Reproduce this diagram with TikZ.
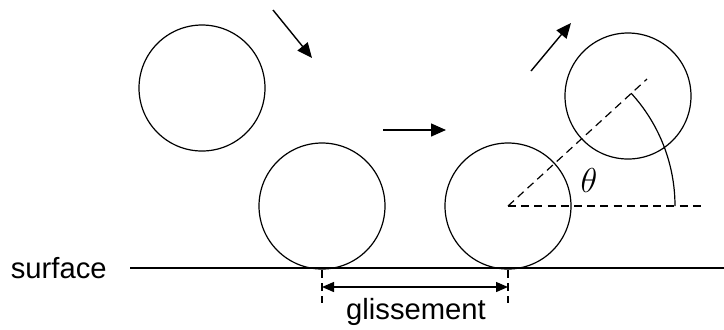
\documentclass[tikz,border=0pt]{standalone}
\usepackage{fontspec}
\setmainfont{Liberation Sans}
\usetikzlibrary{arrows.meta}
\begin{document}
\begin{tikzpicture}[x=0.5pt,y=-0.5pt,
  ball/.style={draw,circle,line width=0.6pt,minimum size=63pt,inner sep=0pt},
  motion/.style={line width=0.7pt,-{Triangle[length=7.5pt,width=6.5pt]}},
  guide/.style={line width=0.6pt,dash pattern=on 4pt off 2.6pt},
  lbl/.style={font=\fontsize{14.6}{16}\selectfont,inner sep=0pt}]
\useasboundingbox (0,0) rectangle (724,329);
% balls
\node[ball] (b1) at (202,88) {};
\node[ball] (b2) at (322,206) {};
\node[ball] (b3) at (508,206) {};
\node[ball] (b4) at (628,96) {};
% surface
\node[lbl,anchor=east] (surf) at (107,268) {surface};
\coordinate (sL) at (130,268);
\coordinate (sR) at (724,268);
\draw[line width=0.7pt] (sL) -- (sR);
% motion arrows
\coordinate (a1s) at (273,10); \coordinate (a1e) at (312,58);
\coordinate (a2s) at (383,130); \coordinate (a2e) at (446,130);
\coordinate (a3s) at (531,71); \coordinate (a3e) at (571,23);
\draw[motion] (a1s) -- (a1e);
\draw[motion] (a2s) -- (a2e);
\draw[motion] (a3s) -- (a3e);
% angle construction
\coordinate (hEnd) at (702,206);
\coordinate (dEnd) at (647,79);
\draw[guide] (b3.center) -- (hEnd);
\draw[guide] (b3.center) -- (dEnd);
\draw[line width=0.6pt] (b3.center) ++(0:167) arc[start angle=0,end angle=-42.5,radius=167];
\node[font=\fontsize{17}{19}\selectfont,inner sep=0pt] (theta) at (589,180) {$\theta$};
% glissement
\coordinate (g1t) at (322,270); \coordinate (g1b) at (322,303);
\coordinate (g2t) at (508,270); \coordinate (g2b) at (508,303);
\draw[guide,dash pattern=on 4pt off 2.5pt] (g1t) -- (g1b);
\draw[guide,dash pattern=on 4pt off 2.5pt] (g2t) -- (g2b);
\coordinate (gL) at (322,287); \coordinate (gR) at (508,287);
\draw[line width=0.7pt,{Triangle[length=6pt,width=5pt]}-{Triangle[length=6pt,width=5pt]}] (gL) -- (gR);
\node[lbl] (gl) at (416,312) {glissement};
\end{tikzpicture}
\end{document}
